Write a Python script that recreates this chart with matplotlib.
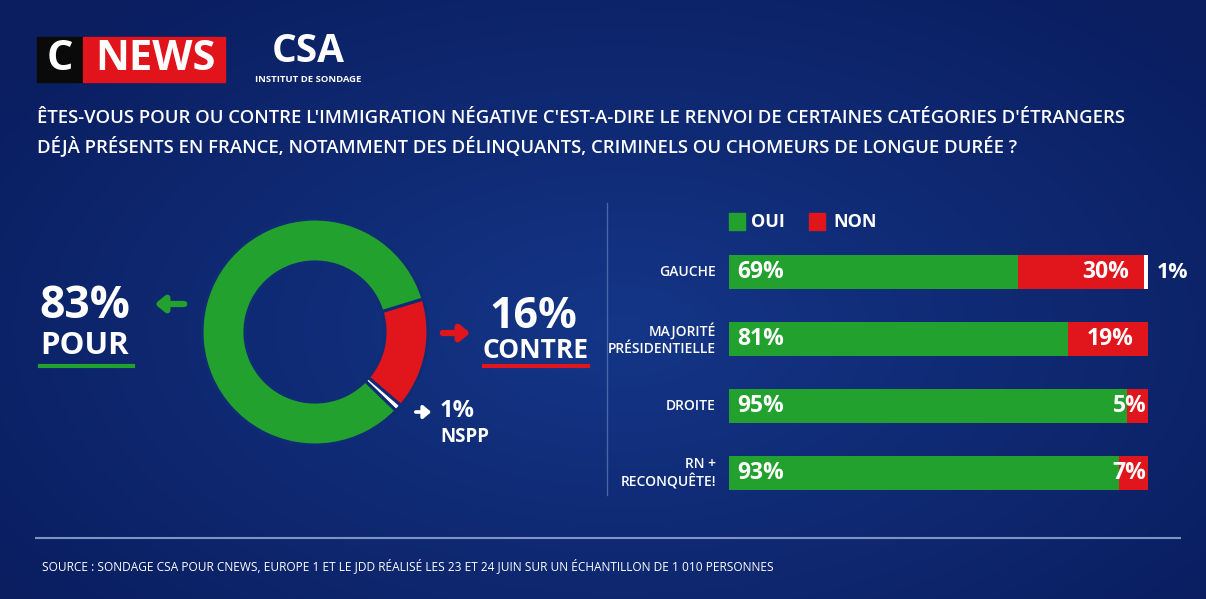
import matplotlib
matplotlib.use('Agg')
import matplotlib.pyplot as plt
import numpy as np

W, H = 1206, 599

# donut data
donut_labels = ['CONTRE', 'NSPP', 'POUR']
donut_values = [16, 1, 83]

# bar data
groups = ['GAUCHE', 'MAJORITÉ\nPRÉSIDENTIELLE', 'DROITE', 'RN +\nRECONQUÊTE!']
oui = [69, 81, 95, 93]
non = [30, 19, 5, 7]
nspp = [1, 0, 0, 0]

title_lines = ["ÊTES-VOUS POUR OU CONTRE L'IMMIGRATION NÉGATIVE C'EST-A-DIRE LE RENVOI DE CERTAINES CATÉGORIES D'ÉTRANGERS",
               "DÉJÀ PRÉSENTS EN FRANCE, NOTAMMENT DES DÉLINQUANTS, CRIMINELS OU CHOMEURS DE LONGUE DURÉE ?"]
source = "SOURCE : SONDAGE CSA POUR CNEWS, EUROPE 1 ET LE JDD RÉALISÉ LES 23 ET 24 JUIN SUR UN ÉCHANTILLON DE 1 010 PERSONNES"

GREEN = '#22a12e'
RED = '#e0161c'
NAVY = '#0f2c74'
FONT = ['Open Sans', 'DejaVu Sans']

plt.rcParams['font.family'] = FONT

fig = plt.figure(figsize=(W / 100, H / 100), dpi=100)

# background with soft radial gradient
bg = fig.add_axes([0, 0, 1, 1])
yy, xx = np.mgrid[0:H, 0:W]
r = np.sqrt(((xx - 620) / 750.0) ** 2 + ((yy - 330) / 420.0) ** 2)
r = np.clip(r, 0, 1)
c_in = np.array([0.08, 0.21, 0.53])
c_out = np.array([0.04, 0.12, 0.38])
img = c_in[None, None, :] * (1 - r[..., None]) + c_out[None, None, :] * r[..., None]
bg.imshow(img, extent=[0, W, H, 0], aspect='auto')
bg.set_xlim(0, W)
bg.set_ylim(H, 0)
bg.axis('off')

# logos
bg.add_patch(plt.Rectangle((37, 37), 46, 45, color='#0a0a0a'))
bg.add_patch(plt.Rectangle((83, 37), 142, 45, color='#e1141c'))
bg.text(60, 60, 'C', color='white', fontsize=30, fontweight='bold', ha='center', va='center')
bg.text(155, 60, 'NEWS', color='white', fontsize=30, fontweight='bold', ha='center', va='center')
bg.text(308, 52, 'CSA', color='white', fontsize=28, fontweight='bold', ha='center', va='center')
bg.text(308, 79, 'INSTITUT DE SONDAGE', color='white', fontsize=6.8, fontweight='bold', ha='center', va='center')

# question
for i, line in enumerate(title_lines):
    bg.text(37, 118 + i * 28, line, color='white', fontsize=13.3, fontweight='semibold', ha='left', va='center')

# separators
bg.plot([607, 607], [203, 495], color='#4a64a8', lw=1)
bg.plot([36, 1180], [538, 538], color='#7f93c4', lw=1.5)
bg.text(42, 566, source, color='white', fontsize=8.6, ha='left', va='center')

# donut
cx, cy, rad = 315, 332, 113
dax = fig.add_axes([(cx - rad) / W, (H - cy - rad) / H, 2 * rad / W, 2 * rad / H])
dax.pie(donut_values, colors=[RED, 'white', GREEN], startangle=17, counterclock=False,
        wedgeprops=dict(width=0.38, edgecolor=NAVY, linewidth=2.2))
dax.set_xlim(-1, 1)
dax.set_ylim(-1, 1)
dax.set_aspect('equal')

# donut labels
bg.text(85, 307, f'{donut_values[2]}%', color='white', fontsize=32, fontweight='bold', ha='center', va='center')
bg.text(85, 346, donut_labels[2], color='white', fontsize=22.5, fontweight='bold', ha='center', va='center')
bg.plot([40, 133], [366, 366], color=GREEN, lw=3)
bg.annotate('', xy=(152, 304), xytext=(187, 304),
            arrowprops=dict(arrowstyle='-|>,head_width=0.45,head_length=0.55', color=GREEN, lw=4.5))

bg.text(533, 316, f'{donut_values[0]}%', color='white', fontsize=31, fontweight='bold', ha='center', va='center')
bg.text(535, 350, donut_labels[0], color='white', fontsize=19, fontweight='bold', ha='center', va='center')
bg.plot([484, 588], [366, 366], color=RED, lw=3)
bg.annotate('', xy=(473, 333), xytext=(440, 333),
            arrowprops=dict(arrowstyle='-|>,head_width=0.45,head_length=0.55', color=RED, lw=4.5))

bg.annotate('', xy=(434, 412), xytext=(413, 412),
            arrowprops=dict(arrowstyle='-|>,head_width=0.38,head_length=0.45', color='white', lw=2.6))
bg.text(440, 411, f'{donut_values[1]}%', color='white', fontsize=17, fontweight='bold', ha='left', va='center')
bg.text(440, 437, donut_labels[1], color='white', fontsize=13.5, fontweight='bold', ha='left', va='center')

# bars
x0, x1 = 729, 1148
y_top, step = 272 - 33.5, 67
bax = fig.add_axes([x0 / W, (H - (y_top + 4 * step)) / H, (x1 - x0) / W, 4 * step / H])
bax.set_xlim(0, 100)
bax.set_ylim(3.5, -0.5)
bax.axis('off')
y = np.arange(len(groups))
bax.barh(y, oui, height=0.51, color=GREEN)
bax.barh(y, non, left=oui, height=0.51, color=RED)
bax.barh(y, nspp, left=np.array(oui) + np.array(non), height=0.51, color='white')

for i, g in enumerate(groups):
    bax.text(-3.1, i, g, color='white', fontsize=10, fontweight='semibold', ha='right', va='center',
             linespacing=1.2, clip_on=False)
    bax.text(2, i, f'{oui[i]}%', color='white', fontsize=16.5, fontweight='bold', ha='left', va='center')
    xr = oui[i] + non[i] - (0.3 if non[i] < 10 else 3.5)
    bax.text(xr, i, f'{non[i]}%', color='white', fontsize=16.5, fontweight='bold', ha='right', va='center')
    if nspp[i]:
        bax.text(102.2, i, f'{nspp[i]}%', color='white', fontsize=15.5, fontweight='bold', ha='left', va='center',
                 clip_on=False)

# legend
bg.add_patch(plt.Rectangle((729, 213), 16, 17, color=GREEN))
bg.text(751, 222, 'OUI', color='white', fontsize=13, fontweight='bold', ha='left', va='center')
bg.add_patch(plt.Rectangle((809, 213), 16, 17, color=RED))
bg.text(833, 222, 'NON', color='white', fontsize=13, fontweight='bold', ha='left', va='center')

fig.savefig('out.png', dpi=100)
